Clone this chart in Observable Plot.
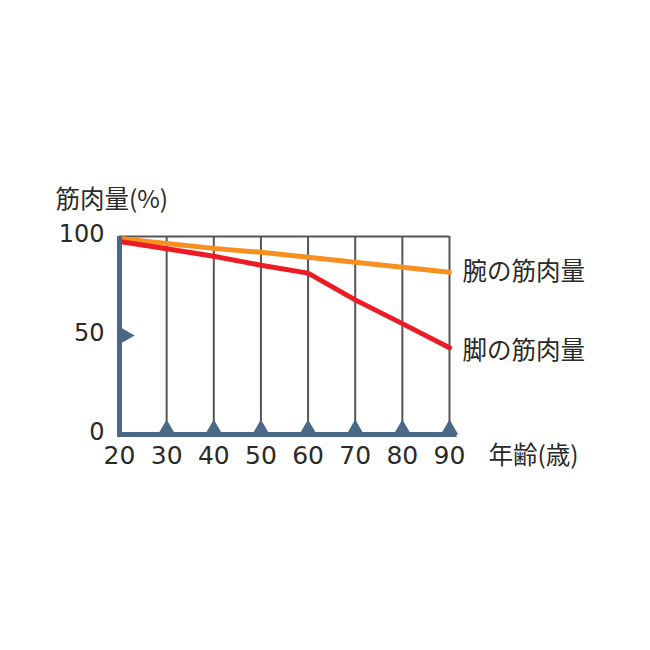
<!DOCTYPE html>
<html>
<head>
<meta charset="utf-8">
<script src="https://cdn.jsdelivr.net/npm/d3@7"></script>
<script src="https://cdn.jsdelivr.net/npm/@observablehq/plot@0.6"></script>
<style>
  html, body { margin: 0; padding: 0; background: #fff; }
</style>
</head>
<body>
<div id="chart"></div>
<script>
const ages = [20, 30, 40, 50, 60, 70, 80, 90];
const armValues = [99, 96.5, 94, 92, 89.5, 87, 84.5, 82];
const legValues = [97.5, 93.8, 90, 85.5, 81.5, 68, 56, 43.8];
const seriesNames = ["腕の筋肉量", "脚の筋肉量"];
const yTicks = [0, 50, 100];
const xTickLabels = ["20", "30", "40", "50", "60", "70", "80", "90"];
const yTitle = "筋肉量(%)";
const xTitle = "年齢(歳)";

const arm = ages.map((a, i) => ({age: a, value: armValues[i]}));
const leg = ages.map((a, i) => ({age: a, value: legValues[i]}));
const gridAges = ages.slice(1);

const AXIS = "#4b6886";
const GRID = "#555555";
const ORANGE = "#f7901e";
const RED = "#ed1c24";
const FONT = "'Noto Sans CJK JP', 'Noto Sans', sans-serif";
const NUMFONT = "'DejaVu Sans', sans-serif";
const TEXT = "#2a2a2a";

const chart = Plot.plot({
  width: 650,
  height: 650,
  marginLeft: 119,
  marginRight: 201,
  marginTop: 236,
  marginBottom: 216,
  x: {domain: [20, 90], axis: null},
  y: {domain: [0, 100], axis: null},
  style: {fontFamily: FONT, background: "#fff"},
  marks: [
    Plot.ruleY([100], {x1: 20, x2: 90, stroke: GRID, strokeWidth: 2}),
    Plot.ruleX(gridAges, {y1: 0, y2: 100, stroke: GRID, strokeWidth: 2}),
    Plot.line(arm, {x: "age", y: "value", stroke: ORANGE, strokeWidth: 5}),
    Plot.line(leg, {x: "age", y: "value", stroke: RED, strokeWidth: 5}),
    Plot.ruleY([0], {x1: 19.6, x2: 91.6, stroke: AXIS, strokeWidth: 5}),
    Plot.ruleX([20], {y1: -1.2, y2: 100, stroke: AXIS, strokeWidth: 5}),
    Plot.dot(gridAges, {x: d => d, y: 0, symbol: "triangle", r: 6.5, fill: AXIS, stroke: "none", dy: -5}),
    Plot.dot([50], {x: 20, y: d => d, symbol: "triangle", r: 6.5, fill: AXIS, stroke: "none", rotate: 90, dx: 5}),
    Plot.text(ages, {x: d => d, y: 0, text: (d, i) => xTickLabels[i], dy: 21, fontSize: 25, fontFamily: NUMFONT, fill: TEXT}),
    Plot.text(yTicks, {x: 20, y: d => d, text: d => String(d), textAnchor: "end", dx: -15, dy: -2, fontSize: 24, fontFamily: NUMFONT, fill: TEXT}),
    Plot.text([yTitle], {x: 20, y: 100, text: d => d, textAnchor: "start", dx: -64, dy: -36, fontSize: 24.5, fill: TEXT}),
    Plot.text([xTitle], {x: 90, y: 0, text: d => d, textAnchor: "start", dx: 39, dy: 22, fontSize: 24.5, fill: TEXT}),
    Plot.text([armValues[armValues.length - 1]], {x: 90, y: d => d, text: () => seriesNames[0], textAnchor: "start", dx: 13, fontSize: 24.5, fill: TEXT}),
    Plot.text([legValues[legValues.length - 1]], {x: 90, y: d => d, text: () => seriesNames[1], textAnchor: "start", dx: 13, dy: 3, fontSize: 24.5, fill: TEXT})
  ]
});
document.getElementById("chart").appendChild(chart);
</script>
</body>
</html>
